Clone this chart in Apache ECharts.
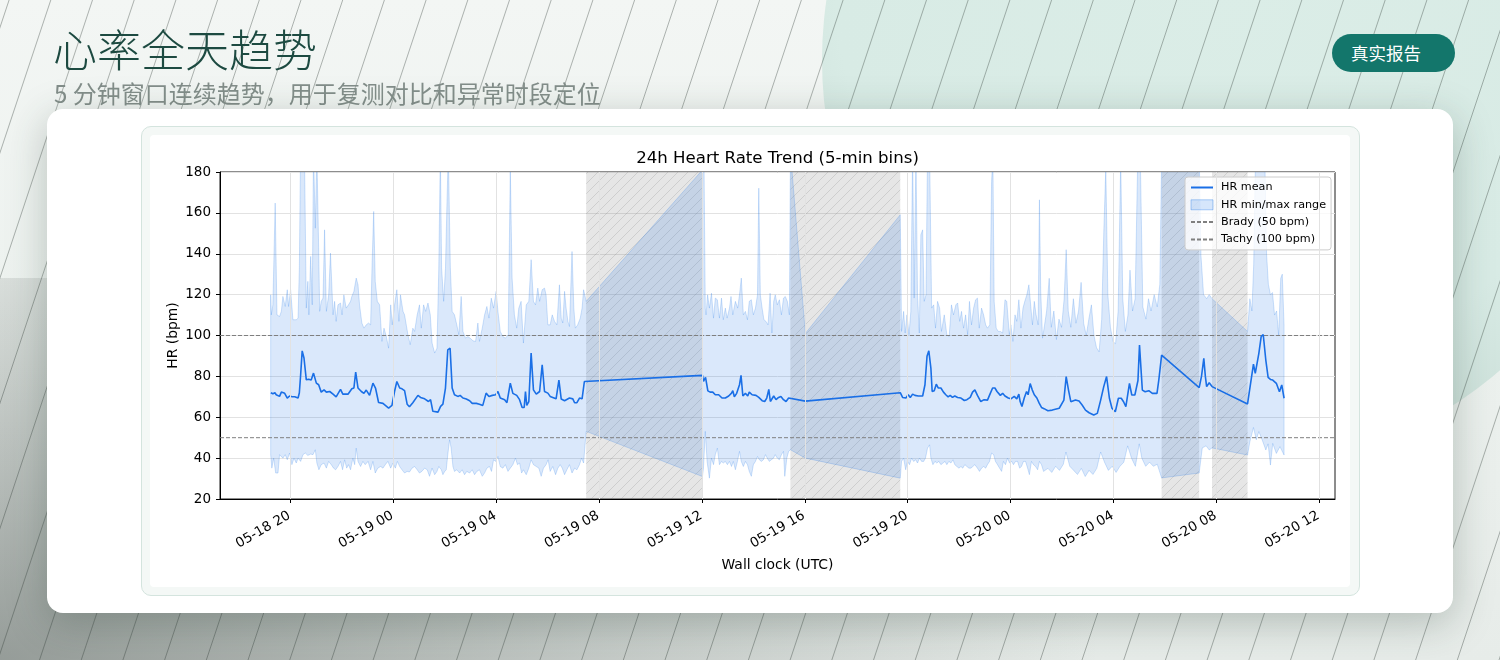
<!DOCTYPE html>
<html>
<head>
<meta charset="utf-8">
<title>心率全天趋势</title>
<script src="https://cdn.jsdelivr.net/npm/echarts@6.0.0/dist/echarts.min.js"></script>
<style>
  html, body { margin: 0; padding: 0; }
  body {
    width: 1500px; height: 660px; overflow: hidden; position: relative;
    font-family: "Noto Sans CJK SC", sans-serif;
    background: linear-gradient(180deg, #f3f6f4 0%, #edf2ef 45%, #e7ece9 100%);
  }
  .mint {
    position: absolute; left: 822px; top: -350px; width: 820px; height: 820px;
    border-radius: 50%;
    background: radial-gradient(circle at 50% 40%, #dbede7 0%, #d8ebe5 62%, #c2d6cf 100%);
  }
  .floor {
    position: absolute; left: 0; top: 278px; width: 1500px; height: 382px;
    background: radial-gradient(ellipse 1100px 520px at 0% 100%, rgba(95,103,99,0.6) 0%, rgba(95,103,99,0.25) 55%, rgba(95,103,99,0) 100%);
  }
  #lines { position: absolute; left: 0; top: 0; }
  .title {
    position: absolute; left: 53px; top: 20px;
    font-size: 44px; line-height: 56px; color: #1d4a41; font-weight: 300;
  }
  .sub {
    position: absolute; left: 54px; top: 77px;
    font-size: 24px; line-height: 32px; color: #838e8a; font-weight: 400;
  }
  .btn {
    position: absolute; left: 1332px; top: 34px; width: 123px; height: 38px;
    box-sizing: border-box; padding-left: 19px;
    border-radius: 19px; background: #13766b; color: #fff;
    font-size: 17.5px; line-height: 38px; font-weight: 400;
  }
  .card {
    position: absolute; left: 47px; top: 109px; width: 1406px; height: 504px;
    background: #fff; border-radius: 16px;
    box-shadow: 0 10px 40px rgba(40,60,52,0.28);
  }
  .frame {
    position: absolute; left: 141px; top: 126px; width: 1217px; height: 468px;
    border: 1px solid #d4e4de; border-radius: 10px; background: #f4f8f6;
  }
  .fig {
    position: absolute; left: 150px; top: 135px; width: 1200px; height: 452px;
    background: #fff; border-radius: 4px;
  }
  #chart { position: absolute; left: 0; top: 0; width: 1500px; height: 660px; }
</style>
</head>
<body>
<div class="mint"></div>
<div class="floor"></div>
<canvas id="lines" width="1500" height="660"></canvas>
<div class="title">心率全天趋势</div>
<div class="sub">5 分钟窗口连续趋势，用于复测对比和异常时段定位</div>
<div class="btn">真实报告</div>
<div class="card"></div>
<div class="frame"></div>
<div class="fig"></div>
<div id="chart"></div>

<script>
// time is hours since 05-18 00:00 UTC, values in bpm
var meanPts = [
  [19.24,72.0],[19.32,71.5],[19.40,72.0],[19.45,71.0],[19.52,70.4],[19.58,70.2],[19.65,72.3],[19.72,72.0],[19.78,71.7],[19.88,69.4],
  [19.97,70.4],[20.07,70.0],[20.17,70.0],[20.30,69.4],[20.35,72.0],[20.40,80.8],[20.46,92.5],[20.53,89.0],[20.62,78.3],[20.71,78.6],
  [20.81,78.2],[20.90,81.6],[21.01,76.7],[21.10,75.9],[21.20,72.3],[21.31,73.4],[21.40,72.3],[21.53,72.6],[21.66,71.3],[21.78,70.0],
  [21.95,73.6],[22.04,71.3],[22.24,71.3],[22.39,73.9],[22.47,74.3],[22.54,82.1],[22.63,74.3],[22.76,72.6],[22.86,71.7],[22.95,73.3],
  [23.08,70.7],[23.21,76.7],[23.31,74.3],[23.43,67.2],[23.60,66.8],[23.82,64.5],[23.95,65.8],[24.05,72.6],[24.14,77.5],[24.25,74.3],
  [24.34,73.9],[24.44,73.0],[24.54,66.4],[24.63,65.1],[24.76,67.1],[24.96,70.7],[25.06,69.7],[25.22,69.0],[25.37,67.7],[25.45,68.6],
  [25.54,62.9],[25.74,62.5],[25.84,65.3],[25.93,66.4],[26.03,74.3],[26.12,93.0],[26.21,93.8],[26.29,74.3],[26.38,71.0],[26.51,70.2],
  [26.60,70.7],[26.71,69.4],[26.84,68.9],[26.97,68.1],[27.07,66.8],[27.23,66.8],[27.35,66.4],[27.48,65.8],[27.61,71.8],[27.72,70.2],
  [27.85,70.7],[27.98,71.0],[28.07,72.6],[28.16,69.4],[28.33,68.6],[28.42,67.1],[28.55,76.7],[28.65,71.7],[28.80,70.7],[28.91,68.6],
  [29.01,64.8],[29.09,64.8],[29.14,72.6],[29.19,65.8],[29.27,67.7],[29.36,91.4],[29.45,73.4],[29.56,71.3],[29.69,72.6],[29.79,85.7],
  [29.88,72.6],[30.01,71.8],[30.10,70.2],[30.20,69.7],[30.33,69.0],[30.44,78.2],[30.53,68.9],[30.66,68.1],[30.85,69.4],[30.98,69.0],
  [31.05,67.1],[31.14,67.1],[31.24,69.4],[31.34,69.0],[31.43,77.5],[31.50,78.2],
  [36.02,80.5],[36.06,77.5],[36.14,79.5],[36.23,72.9],[36.32,72.3],[36.42,72.3],[36.52,71.0],[36.65,71.0],[36.78,69.4],[36.91,69.4],
  [37.04,70.4],[37.15,71.8],[37.20,73.0],[37.26,70.0],[37.35,71.7],[37.46,75.9],[37.52,80.5],[37.59,70.4],[37.69,71.7],[37.78,70.4],
  [37.84,72.3],[37.95,71.0],[38.10,70.7],[38.21,69.7],[38.34,68.1],[38.44,67.7],[38.52,69.4],[38.60,73.6],[38.66,67.7],[38.72,68.1],
  [38.79,70.4],[38.88,68.6],[38.98,69.7],[39.07,70.2],[39.17,68.6],[39.27,67.7],[39.37,69.4],[39.44,70.0],
  [40.02,67.9],
  [43.71,72.0],[43.80,69.7],[43.93,69.4],[44.02,71.0],[44.10,69.7],[44.19,71.3],[44.28,70.7],[44.41,70.4],[44.58,70.4],[44.67,75.9],
  [44.75,89.8],[44.82,92.5],[44.90,84.1],[44.95,72.6],[45.03,73.0],[45.11,76.2],[45.19,74.3],[45.29,74.3],[45.39,72.3],[45.48,71.0],
  [45.57,70.0],[45.65,70.7],[45.74,69.7],[45.83,70.4],[45.94,69.7],[46.07,69.4],[46.20,68.2],[46.30,68.6],[46.43,69.7],[46.52,72.3],
  [46.61,73.4],[46.71,70.7],[46.84,67.7],[46.97,68.6],[47.10,68.4],[47.21,71.7],[47.30,74.3],[47.39,74.3],[47.47,72.6],[47.53,73.0],
  [47.60,70.7],[47.69,71.7],[47.78,70.4],[47.91,69.4],[48.01,69.0],[48.14,70.2],[48.24,69.0],[48.32,71.3],[48.37,67.7],[48.44,65.3],
  [48.53,69.4],[48.62,72.6],[48.68,71.0],[48.76,76.5],[48.84,73.4],[48.92,71.0],[49.02,69.4],[49.11,66.9],[49.20,64.8],[49.30,64.2],
  [49.45,63.2],[49.62,63.5],[49.89,64.4],[50.07,68.4],[50.16,79.9],[50.25,73.3],[50.34,67.6],[50.52,68.4],[50.66,67.9],[50.78,66.0],
  [50.91,63.5],[51.05,62.2],[51.23,61.1],[51.37,61.9],[51.50,68.4],[51.62,75.0],[51.73,79.9],[51.84,69.3],[51.94,64.4],[52.07,62.7],
  [52.19,69.3],[52.30,69.3],[52.39,67.6],[52.48,65.2],[52.62,76.6],[52.71,70.9],[52.83,70.9],[52.95,78.0],[53.01,95.3],[53.12,73.3],
  [53.23,72.5],[53.37,73.0],[53.51,71.7],[53.69,71.7],[53.76,78.2],[53.87,90.4],
  [55.33,74.5],[55.42,80.0],[55.51,88.8],[55.57,80.0],[55.62,75.0],[55.72,76.9],[55.83,75.0],
  [57.21,66.5],[57.44,86.0],[57.51,81.5],[57.65,91.3],[57.74,99.5],[57.82,100.5],[57.92,88.0],[58.01,79.5],[58.10,78.5],[58.19,78.2],
  [58.33,76.6],[58.45,72.5],[58.54,75.8],[58.63,69.3]
];

var hiPts = [
  [19.235,119.9],[19.26,110.1],[19.32,115.0],[19.41,164.8],[19.48,110.1],[19.58,109.3],[19.65,111.8],[19.71,119.1],[19.80,114.2],[19.88,122.4],
  [19.93,114.2],[20.01,122.4],[20.10,107.7],[20.23,107.7],[20.30,108.5],[20.35,133.0],[20.40,195],[20.50,195],[20.55,188],[20.62,113.4],
  [20.68,126.5],[20.72,110.1],[20.79,138.7],[20.85,115.0],[20.90,190],[20.97,152.5],[21.03,190],[21.10,142.8],[21.14,111.8],[21.20,116.7],
  [21.27,118.3],[21.33,151.7],[21.40,111.8],[21.49,119.9],[21.56,140.3],[21.66,110.1],[21.72,116.7],[21.78,106.9],[21.85,115.0],[21.95,115.9],
  [22.01,110.1],[22.08,119.9],[22.17,113.4],[22.26,115.0],[22.34,116.7],[22.39,119.1],[22.47,121.6],[22.56,128.1],[22.63,124.8],[22.69,115.0],
  [22.78,106.1],[22.86,103.6],[22.95,105.2],[23.04,106.1],[23.12,105.2],[23.18,136.2],[23.24,160.7],[23.30,126.5],[23.38,116.7],[23.47,115.0],
  [23.56,97.1],[23.64,103.6],[23.73,99.5],[23.82,93.8],[23.90,115.0],[23.96,105.2],[24.05,115.0],[24.14,122.4],[24.22,106.9],[24.28,119.9],
  [24.38,111.8],[24.44,110.1],[24.57,100.4],[24.66,95.5],[24.76,103.6],[24.83,102.0],[24.93,110.1],[25.02,115.0],[25.09,103.6],[25.18,115.0],
  [25.26,111.8],[25.35,115.9],[25.44,110.1],[25.51,96.3],[25.61,91.4],[25.70,93.8],[25.77,133.0],[25.83,190],[25.88,133.0],[25.96,116.7],
  [26.03,133.0],[26.09,165.6],[26.14,190],[26.22,133.0],[26.29,111.8],[26.38,110.1],[26.47,105.2],[26.55,100.4],[26.64,119.1],[26.71,102.0],
  [26.81,98.7],[26.90,99.5],[26.99,98.7],[27.10,97.4],[27.20,97.1],[27.29,106.1],[27.35,97.1],[27.46,103.6],[27.55,110.1],[27.64,114.2],
  [27.72,108.5],[27.81,118.3],[27.90,113.4],[28.00,121.6],[28.07,111.8],[28.16,102.0],[28.26,99.5],[28.36,98.7],[28.47,100.4],[28.55,182],
  [28.62,128.1],[28.71,110.1],[28.80,103.6],[28.88,113.4],[28.97,116.7],[29.06,96.3],[29.17,115.0],[29.27,116.7],[29.36,137.1],[29.45,116.7],
  [29.53,115.0],[29.62,123.2],[29.69,116.7],[29.79,122.4],[29.88,123.2],[29.94,119.9],[30.01,105.2],[30.10,105.2],[30.18,110.1],[30.27,106.9],
  [30.36,105.2],[30.46,124.8],[30.53,108.5],[30.59,106.1],[30.66,121.6],[30.72,113.4],[30.79,106.9],[30.85,104.4],[30.95,141.1],[31.02,113.4],
  [31.08,103.6],[31.17,105.2],[31.27,108.5],[31.34,113.4],[31.40,122.4],[31.50,116.7],
  [36.02,181],[36.08,186],[36.13,113.4],[36.16,110.1],[36.22,119.9],[36.29,113.4],[36.37,120.7],[36.45,108.5],[36.52,118.3],[36.60,117.5],
  [36.68,108.5],[36.76,118.3],[36.83,107.7],[36.91,113.4],[36.98,108.5],[37.07,113.4],[37.13,119.1],[37.20,110.1],[37.30,116.7],[37.39,113.4],
  [37.46,119.9],[37.53,128.1],[37.61,110.1],[37.69,111.8],[37.77,107.7],[37.84,116.7],[37.92,117.5],[38.00,110.1],[38.08,113.4],[38.16,119.9],
  [38.21,172.1],[38.27,119.9],[38.34,113.4],[38.41,107.7],[38.49,106.9],[38.57,105.2],[38.65,120.7],[38.72,101.2],[38.79,116.7],[38.85,119.9],
  [38.93,115.0],[39.01,117.5],[39.09,110.1],[39.17,118.3],[39.24,119.1],[39.32,116.7],[39.40,110.1],[39.44,190],
  [40.02,101.0],
  [43.71,159.1],[43.76,102.0],[43.84,111.8],[43.90,101.2],[43.97,110.1],[44.05,100.4],[44.12,111.8],[44.19,190],[44.25,118.3],[44.32,190],
  [44.38,119.9],[44.45,101.2],[44.51,149.3],[44.58,151.7],[44.64,116.7],[44.71,119.9],[44.77,190],[44.85,190],[44.93,113.4],[45.01,115.0],
  [45.08,103.6],[45.16,116.7],[45.24,113.4],[45.31,102.0],[45.42,110.1],[45.52,100.4],[45.61,99.5],[45.70,115.0],[45.78,110.1],[45.87,115.0],
  [45.94,115.9],[46.02,106.9],[46.09,111.8],[46.17,103.6],[46.25,110.1],[46.33,100.4],[46.40,116.7],[46.48,105.2],[46.56,113.4],[46.64,117.5],
  [46.71,118.3],[46.78,103.6],[46.87,113.4],[46.95,110.1],[47.03,105.2],[47.10,103.6],[47.19,105.2],[47.26,175.4],[47.31,188],[47.36,116.7],
  [47.44,103.6],[47.52,102.0],[47.60,102.0],[47.69,101.2],[47.78,117.5],[47.85,116.7],[47.95,100.4],[48.01,105.2],[48.09,97.1],[48.17,110.1],
  [48.24,106.9],[48.32,117.5],[48.40,103.6],[48.48,113.4],[48.55,116.7],[48.63,119.9],[48.71,124.8],[48.79,113.4],[48.85,105.2],[48.92,116.7],
  [48.99,110.1],[49.07,105.2],[49.12,166.4],[49.17,121.6],[49.24,98.7],[49.30,103.6],
  [49.40,112],[49.50,128],[49.58,104],[49.68,112],[49.78,98],[49.88,108],[49.98,104],[50.08,118],[50.16,142],[50.24,112],
  [50.34,104],[50.44,118],[50.54,106],[50.64,112],[50.74,126],[50.84,106],[50.94,100],[51.04,108],[51.14,115],[51.24,100],
  [51.34,94],[51.44,92],[51.54,108],[51.62,150],[51.70,182],[51.78,120],[51.88,104],[51.98,97],[52.08,96],[52.18,112],
  [52.28,186],[52.36,118],[52.46,102],[52.56,110],[52.64,132],[52.74,112],[52.84,118],[52.94,186],[53.04,188],[53.14,114],
  [53.26,108],[53.36,118],[53.46,112],[53.58,120],[53.70,114],[53.80,125],[53.87,188],
  [55.33,190],[55.40,139],[55.50,120],[55.62,118],[55.72,120],[55.83,118],
  [57.21,102],[57.30,118],[57.38,112],[57.45,135],[57.52,188],[57.60,190],[57.70,190],[57.80,190],[57.88,188],[57.95,140],
  [58.02,125],[58.10,120],[58.18,121],[58.26,110],[58.34,112],[58.42,100],[58.50,128],[58.56,130],[58.63,105]
];

var loPts = [
  [19.235,41.7],[19.28,35.1],[19.35,40.0],[19.43,32.7],[19.52,32.7],[19.58,41.7],[19.71,40.0],[19.80,41.7],[19.88,39.2],[19.97,42.5],
  [20.06,36.8],[20.14,40.0],[20.23,37.6],[20.30,40.0],[20.40,38.4],[20.49,41.7],[20.58,42.5],[20.68,41.3],[20.79,42.0],[20.88,41.7],
  [20.97,44.1],[21.03,37.6],[21.11,34.3],[21.20,36.8],[21.31,37.6],[21.40,35.1],[21.49,38.4],[21.59,36.8],[21.68,35.1],[21.76,34.3],
  [21.85,35.9],[21.95,38.4],[22.03,34.3],[22.11,39.2],[22.19,35.1],[22.26,36.8],[22.34,34.3],[22.43,40.0],[22.50,36.8],[22.56,44.9],
  [22.63,38.4],[22.73,35.9],[22.82,38.4],[22.91,36.8],[23.02,38.4],[23.12,34.3],[23.21,38.4],[23.30,32.7],[23.40,35.1],[23.51,35.9],
  [23.60,35.1],[23.69,36.8],[23.79,38.4],[23.90,35.1],[23.99,37.6],[24.08,35.1],[24.16,38.4],[24.25,35.9],[24.34,34.3],[24.44,32.7],
  [24.54,33.5],[24.63,33.2],[24.73,35.1],[24.83,35.9],[24.93,34.3],[25.02,32.7],[25.11,33.5],[25.22,35.1],[25.32,34.3],[25.41,31.1],
  [25.51,35.1],[25.61,31.9],[25.70,33.5],[25.77,35.9],[25.87,34.3],[25.93,31.9],[26.00,33.5],[26.06,34.3],[26.12,41.7],[26.19,49.0],
  [26.25,44.9],[26.32,35.9],[26.38,33.5],[26.47,34.3],[26.58,32.7],[26.68,34.3],[26.77,31.9],[26.86,33.5],[26.97,32.7],[27.07,34.3],
  [27.16,31.9],[27.25,33.5],[27.35,34.3],[27.46,31.1],[27.55,32.7],[27.64,35.1],[27.74,35.9],[27.82,33.5],[27.90,39.2],[27.98,38.4],
  [28.07,40.8],[28.16,35.9],[28.26,35.1],[28.36,36.8],[28.46,33.5],[28.55,35.1],[28.65,36.8],[28.75,40.0],[28.83,36.8],[28.91,37.6],
  [28.99,32.7],[29.06,34.3],[29.17,31.9],[29.27,35.1],[29.36,39.2],[29.45,36.8],[29.56,35.9],[29.66,35.1],[29.75,31.1],[29.84,35.1],
  [29.94,36.8],[30.02,39.2],[30.10,33.5],[30.20,35.9],[30.31,31.9],[30.40,35.1],[30.49,36.8],[30.57,35.1],[30.66,31.9],[30.75,34.3],
  [30.85,36.8],[30.95,32.7],[31.05,35.1],[31.14,34.3],[31.24,36.8],[31.32,40.0],[31.40,37.6],[31.50,53.1],
  [36.02,31.0],[36.06,35.1],[36.13,53.1],[36.20,38.4],[36.29,30.2],[36.37,40.0],[36.45,36.8],[36.52,41.7],[36.60,44.9],[36.68,36.8],
  [36.76,38.4],[36.83,37.6],[36.91,38.4],[36.99,36.8],[37.07,38.4],[37.15,35.9],[37.22,38.4],[37.30,34.3],[37.38,38.4],[37.46,43.3],
  [37.53,38.4],[37.61,35.9],[37.69,38.4],[37.77,36.8],[37.84,33.5],[37.92,31.1],[38.00,36.8],[38.08,38.4],[38.16,40.8],[38.23,39.2],
  [38.31,38.4],[38.39,39.2],[38.47,41.7],[38.54,40.0],[38.62,38.4],[38.70,39.2],[38.78,40.0],[38.85,41.7],[38.93,40.0],[39.01,39.2],
  [39.09,41.7],[39.17,43.3],[39.22,31.1],[39.30,40.0],[39.37,43.3],[39.44,44.1],
  [40.02,40.0],
  [43.71,30.2],[43.76,38.4],[43.84,40.0],[43.92,34.3],[43.99,38.4],[44.07,36.8],[44.15,40.0],[44.23,38.4],[44.31,39.2],[44.38,37.6],
  [44.46,40.0],[44.54,38.4],[44.62,38.4],[44.69,40.0],[44.77,44.9],[44.85,46.5],[44.90,40.0],[44.98,36.8],[45.06,38.4],[45.13,37.6],
  [45.21,38.4],[45.29,36.8],[45.37,37.6],[45.45,38.4],[45.52,36.8],[45.60,38.4],[45.68,37.6],[45.76,39.2],[45.83,36.8],[45.91,35.9],
  [45.99,35.1],[46.07,35.9],[46.14,35.1],[46.22,36.8],[46.30,35.9],[46.38,35.1],[46.46,35.1],[46.53,35.9],[46.61,36.8],[46.71,35.1],
  [46.79,33.5],[46.87,35.1],[46.95,35.9],[47.03,35.1],[47.10,36.8],[47.18,38.4],[47.26,42.5],[47.34,41.7],[47.41,38.4],[47.49,36.8],
  [47.57,35.1],[47.65,33.5],[47.72,38.4],[47.80,36.8],[47.88,40.0],[47.96,37.6],[48.04,38.4],[48.11,36.8],[48.19,38.4],[48.27,38.4],
  [48.35,35.1],[48.42,35.9],[48.50,38.4],[48.58,38.4],[48.66,35.1],[48.73,31.9],[48.81,38.4],[48.89,36.8],[48.97,35.9],[49.05,34.3],
  [49.12,38.4],[49.20,36.8],[49.28,33.5],
  [49.45,35],[49.60,33],[49.75,36],[49.90,34],[50.05,37],[50.15,43],[50.30,36],[50.45,34],[50.60,32],[50.75,35],
  [50.90,31],[51.05,34],[51.20,32],[51.35,35],[51.50,43],[51.65,38],[51.80,34],[51.95,36],[52.10,33],[52.25,36],
  [52.40,38],[52.55,46],[52.70,40],[52.85,36],[53.00,47],[53.10,40],[53.25,36],[53.40,38],[53.55,36],[53.70,37],[53.87,30.3],
  [55.33,32.7],[55.45,45],[55.60,46],[55.72,44],[55.83,45],
  [57.21,41.5],[57.30,48],[57.44,55],[57.55,49],[57.65,53],[57.78,48.9],[57.92,44],[58.01,47],[58.10,36.6],[58.19,47.2],
  [58.33,42.3],[58.47,45.6],[58.63,41.5]
];

var gapSpans = [[31.50, 36.02], [39.44, 43.71], [53.87, 55.33], [55.83, 57.21]];
var tickHours = [20, 24, 28, 32, 36, 40, 44, 48, 52, 56, 60];
var xMin = 17.265, xMax = 60.61;
var bradyLevel = 50, tachyLevel = 100;

// background diagonal lines
(function () {
  var c = document.getElementById('lines').getContext('2d');
  c.strokeStyle = 'rgba(45,55,50,0.36)';
  c.lineWidth = 1;
  for (var k = -2; k < 45; k++) {
    var x0 = 9.1 + 41.7 * k;
    c.beginPath();
    c.moveTo(x0, 0);
    c.lineTo(x0 - 0.333 * 660, 660);
    c.stroke();
  }
})();

// hatch pattern for the gap bands
var hatch = document.createElement('canvas');
hatch.width = 10; hatch.height = 10;
(function () {
  var c = hatch.getContext('2d');
  c.fillStyle = 'rgba(128,128,128,0.2)';
  c.fillRect(0, 0, 10, 10);
  c.strokeStyle = 'rgba(110,110,110,0.25)';
  c.lineWidth = 0.8;
  c.beginPath();
  c.moveTo(0, 10); c.lineTo(10, 0);
  c.moveTo(-5, 5); c.lineTo(5, -5);
  c.moveTo(5, 15); c.lineTo(15, 5);
  c.stroke();
})();

function fmtTick(v) {
  var d = 18 + Math.floor(v / 24);
  var hr = Math.round(v - (d - 18) * 24);
  return '05-' + d + ' ' + (hr < 10 ? '0' + hr : hr);
}

var font = 'DejaVu Sans';
var blue = '#1a6fe6';
var noSymbol = { opacity: 0 };

var chart = echarts.init(document.getElementById('chart'));
chart.setOption({
  animation: false,
  textStyle: { fontFamily: font },
  graphic: [{
    type: 'text', x: 777.5, y: 158.5,
    style: { text: '24h Heart Rate Trend (5-min bins)', fill: '#000', fontSize: 16.6, fontFamily: font, textAlign: 'center', textVerticalAlign: 'middle' }
  }],
  legend: {
    orient: 'vertical', left: 1185, top: 177,
    itemWidth: 22, itemHeight: 10, itemGap: 4.3,
    padding: [4, 5, 4, 5],
    backgroundColor: 'rgba(255,255,255,0.8)', borderColor: '#cccccc', borderWidth: 1, borderRadius: 3,
    textStyle: { fontSize: 11.2, color: '#000', fontFamily: font, lineHeight: 13, padding: [0, 0, 0, 3] },
    selectedMode: false,
    data: [
      { name: 'HR mean', itemStyle: noSymbol },
      { name: 'HR min/max range', icon: 'rect', itemStyle: { color: 'rgba(26,115,232,0.18)', borderColor: 'rgba(26,115,232,0.35)', borderWidth: 1 } },
      { name: 'Brady (50 bpm)', itemStyle: noSymbol },
      { name: 'Tachy (100 bpm)', itemStyle: noSymbol }
    ]
  },
  grid: { left: 220, top: 172, width: 1115, height: 327, show: true, borderColor: '#1a1a1a', borderWidth: 1, backgroundColor: 'transparent' },
  xAxis: {
    type: 'value', min: xMin, max: xMax,
    name: 'Wall clock (UTC)', nameLocation: 'middle', nameGap: 59, nameMoveOverlap: false,
    nameTextStyle: { fontSize: 13.9, color: '#000', fontFamily: font },
    axisLine: { show: true, lineStyle: { color: '#000', width: 1 } },
    axisTick: { show: true, customValues: tickHours, length: 4, lineStyle: { color: '#000' } },
    axisLabel: { customValues: tickHours, rotate: 30, fontSize: 13.5, color: '#000', margin: 7, verticalAlign: 'top', align: 'right', padding: [0, 5, 0, 0], fontFamily: font, formatter: fmtTick },
    splitLine: { show: false }
  },
  yAxis: {
    type: 'value', min: 20, max: 180, interval: 20,
    name: 'HR (bpm)', nameLocation: 'middle', nameGap: 40, nameMoveOverlap: false,
    nameTextStyle: { fontSize: 13.9, color: '#000', fontFamily: font },
    axisLine: { show: true, lineStyle: { color: '#000', width: 1 } },
    axisTick: { show: true, length: 4, lineStyle: { color: '#000' } },
    axisLabel: { fontSize: 13.5, color: '#000', margin: 9, fontFamily: font },
    splitLine: { show: true, lineStyle: { color: '#e2e2e2', width: 1 } }
  },
  series: [
    {
      name: 'vgrid', type: 'line', data: [], silent: true, z: 1,
      markLine: {
        silent: true, symbol: ['none', 'none'], label: { show: false },
        lineStyle: { color: '#e2e2e2', type: 'solid', width: 1 },
        data: tickHours.map(function (h) { return { xAxis: h }; })
      }
    },
    {
      name: 'HR min/max range', type: 'custom', clip: true, z: 2, silent: true,
      itemStyle: { color: 'rgba(26,115,232,0.18)' },
      data: [[xMin, 20]],
      renderItem: function (params, api) {
        var pts = [];
        for (var i = 0; i < hiPts.length; i++) pts.push(api.coord(hiPts[i]));
        for (var j = loPts.length - 1; j >= 0; j--) pts.push(api.coord(loPts[j]));
        return {
          type: 'polygon',
          shape: { points: pts },
          style: { fill: 'rgba(26,115,232,0.16)', stroke: 'rgba(26,115,232,0.2)', lineWidth: 1 }
        };
      }
    },
    {
      name: 'Brady (50 bpm)', type: 'line', symbol: 'none', z: 3, silent: true,
      data: [[xMin, bradyLevel], [xMax, bradyLevel]],
      lineStyle: { color: '#7f7f7f', type: [4, 2], width: 1 },
      itemStyle: { color: '#7f7f7f' },
      markArea: {
        silent: true, label: { show: false },
        itemStyle: { color: { image: hatch, repeat: 'repeat' } },
        data: gapSpans.map(function (g) { return [{ xAxis: g[0] }, { xAxis: g[1] }]; })
      }
    },
    {
      name: 'Tachy (100 bpm)', type: 'line', symbol: 'none', z: 3, silent: true,
      data: [[xMin, tachyLevel], [xMax, tachyLevel]],
      lineStyle: { color: '#7f7f7f', type: [4, 2], width: 1 },
      itemStyle: { color: '#7f7f7f' }
    },
    {
      name: 'HR mean', type: 'line', symbol: 'none', z: 4,
      data: meanPts,
      lineStyle: { color: blue, width: 1.6 },
      itemStyle: { color: blue }
    }
  ]
});
</script>
</body>
</html>
